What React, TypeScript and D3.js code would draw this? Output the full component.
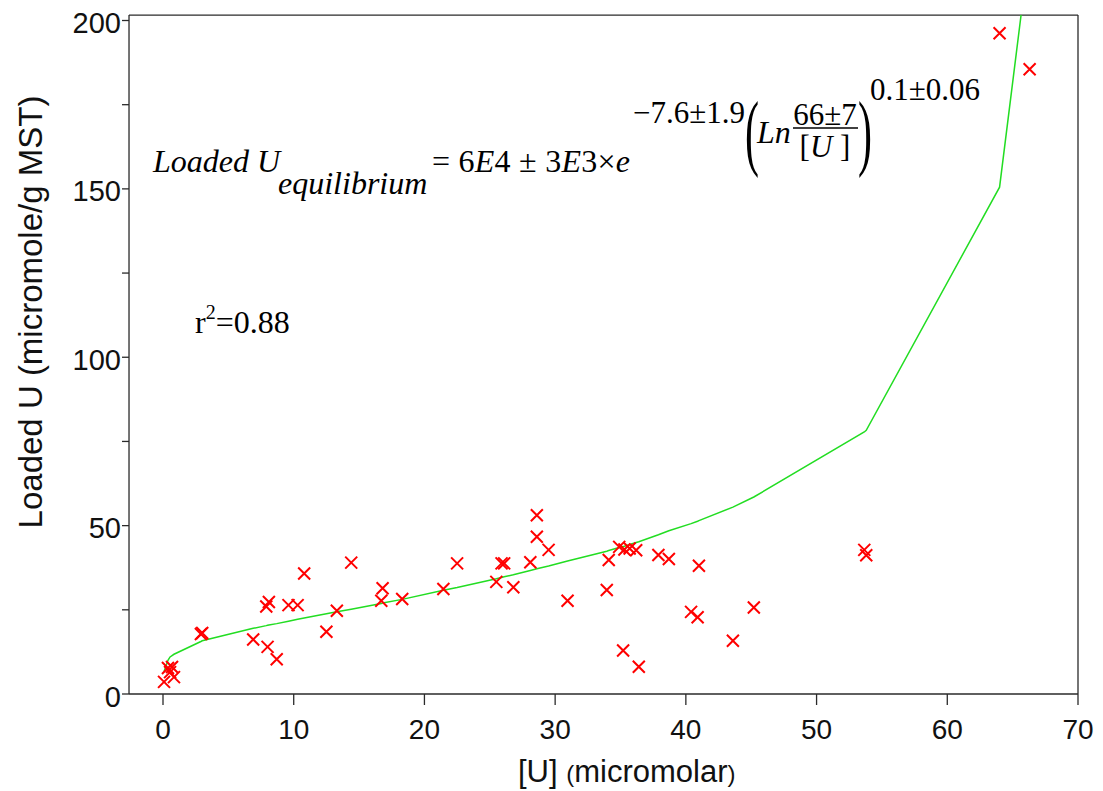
import React from 'react';
import * as d3 from 'd3';

// Measured data points: [U] (micromolar) vs Loaded U (micromole/g MST)
const pointsX = [0.08, 0.38, 0.69, 0.84, 0.54, 2.9, 3.0, 6.9, 8.0, 8.7, 7.9, 8.1, 9.6, 10.3, 10.8, 12.5, 13.3, 14.4,
  16.7, 16.8, 18.3, 21.45, 22.5, 25.5, 25.9, 26.1, 26.8, 28.1, 28.6, 28.6, 29.5, 30.95, 34.1, 33.95, 34.9, 35.3, 35.7,
  36.2, 35.2, 36.4, 37.9, 38.7, 41.0, 40.4, 40.9, 43.6, 45.2, 53.65, 53.8, 64.0, 66.3];
const pointsY = [3.6, 7.7, 8.0, 5.0, 6.5, 17.8, 18.1, 16.2, 14.0, 10.3, 26.0, 27.3, 26.4, 26.4, 35.8, 18.5, 24.7, 39.0,
  27.7, 31.4, 28.2, 31.2, 38.8, 33.3, 38.8, 38.8, 31.7, 39.1, 53.1, 46.7, 42.8, 27.7, 39.8, 30.9, 43.7, 42.9, 43.2,
  42.7, 12.9, 8.1, 41.3, 40.1, 38.1, 24.4, 22.8, 15.8, 25.7, 42.8, 41.2, 196.2, 185.5];

// Fitted curve vertices
const curveX = [0.08, 0.38, 0.54, 0.69, 0.84, 2.9, 3.0, 6.9, 7.9, 8.0, 8.1, 8.7, 9.6, 10.3, 10.8, 12.5, 13.3, 14.4,
  16.7, 16.8, 18.3, 21.45, 22.5, 25.5, 25.9, 26.1, 26.8, 28.1, 28.6, 29.5, 30.95, 33.95, 34.1, 34.9, 35.2, 35.3, 35.7,
  36.2, 36.4, 37.9, 38.7, 40.4, 40.9, 41.0, 43.6, 45.2, 53.65, 53.8, 64.0, 66.3];
const curveY = [6.7, 10.0, 11.0, 11.4, 11.8, 15.6, 15.8, 19.5, 20.3, 20.4, 20.5, 20.9, 21.6, 22.2, 22.6, 23.8, 24.4, 25.2,
  26.9, 27.0, 28.1, 30.8, 31.6, 34.2, 34.6, 34.8, 35.4, 36.7, 37.2, 38.0, 39.5, 42.4, 42.6, 43.5, 43.8, 43.9, 44.4,
  45.0, 45.2, 47.3, 48.5, 50.6, 51.3, 51.5, 55.5, 58.5, 77.8, 78.3, 150.5, 222];

const xTicks = [0, 10, 20, 30, 40, 50, 60, 70];
const yTicks = [0, 25, 50, 75, 100, 125, 150, 175, 200];
const yLabels = [0, 50, 100, 150, 200];

const SANS = '"Liberation Sans", Arial, sans-serif';
const SERIF = '"Liberation Serif", "Times New Roman", serif';

export default function App() {
  const x = d3.scaleLinear().domain([0, 70]).range([163, 1078]);
  const y = d3.scaleLinear().domain([0, 200]).range([694, 20.5]);
  const left = x(-2.6);
  const right = x(70);
  const top = y(201.6);
  const bottom = y(0);

  const line = d3.line<number>()
    .x((_, i) => x(curveX[i]))
    .y((_, i) => y(curveY[i]));
  const curvePath = line(curveX) || '';

  const s = 6;
  const axisColor = '#2a2a2a';

  return (
    <svg width={1103} height={791} style={{ position: 'absolute', left: 0, top: 0, background: '#fff' }}>
      <defs>
        <clipPath id="plotClip">
          <rect x={left} y={top} width={right - left} height={bottom - top} />
        </clipPath>
      </defs>

      {/* frame */}
      <line x1={left} x2={right} y1={top} y2={top} stroke={axisColor} strokeWidth={1.3} />
      <line x1={right} x2={right} y1={top} y2={bottom} stroke={axisColor} strokeWidth={1.3} />
      <line x1={left} x2={right} y1={bottom} y2={bottom} stroke={axisColor} strokeWidth={1.3} />
      <line x1={left} x2={left} y1={top} y2={bottom} stroke={axisColor} strokeWidth={1.3} />

      {/* x ticks */}
      {xTicks.map(t => (
        <g key={'xt' + t}>
          <line x1={x(t)} x2={x(t)} y1={bottom} y2={bottom + 11} stroke={axisColor} strokeWidth={1.3} />
          <text x={x(t)} y={739} textAnchor="middle" fontFamily={SANS} fontSize={28} fill="#111">{t}</text>
        </g>
      ))}
      {/* y ticks */}
      {yTicks.map(t => (
        <line key={'yt' + t} x1={left - 7} x2={left} y1={y(t)} y2={y(t)} stroke={axisColor} strokeWidth={1.3} />
      ))}
      {yLabels.map(t => (
        <text key={'yl' + t} x={121} y={y(t) + 12.5} textAnchor="end" fontFamily={SANS} fontSize={29} fill="#111">{t}</text>
      ))}

      {/* axis titles */}
      <text transform="translate(42,312) rotate(-90)" textAnchor="middle" fontFamily={SANS} fontSize={33} fill="#111">
        Loaded U (micromole/g MST)
      </text>
      <text x={518} y={782} fontFamily={SANS} fontSize={31} fill="#111">
        [U] <tspan fontSize={24}>(</tspan>micromolar<tspan fontSize={24}>)</tspan>
      </text>

      {/* fitted curve */}
      <path d={curvePath} fill="none" stroke="#22dd22" strokeWidth={1.5} clipPath="url(#plotClip)" />

      {/* data points */}
      {pointsX.map((px, i) => {
        const cx = x(px);
        const cy = y(pointsY[i]);
        return (
          <path key={'p' + i} d={`M${cx - s},${cy - s}L${cx + s},${cy + s}M${cx - s},${cy + s}L${cx + s},${cy - s}`}
            stroke="#ff0000" strokeWidth={2} fill="none" />
        );
      })}

      {/* equation */}
      <g fontFamily={SERIF} fill="#000" fontSize={32}>
        <text x={153} y={172} fontStyle="italic">Loaded U</text>
        <text x={278} y={194} fontStyle="italic">equilibrium</text>
        <text x={432} y={172} textLength={198} lengthAdjust="spacing">
          = 6<tspan fontStyle="italic">E</tspan>4 ± 3<tspan fontStyle="italic">E</tspan>3×<tspan fontStyle="italic">e</tspan>
        </text>
        <text x={633} y={123} fontSize={31}>−7.6±1.9</text>
        <text transform="translate(745,160) scale(0.5,1)" fontSize={84}>(</text>
        <text x={757} y={143} fontStyle="italic">Ln</text>
        <text x={825} y={125} textAnchor="middle" fontSize={31}>66±7</text>
        <line x1={793} x2={858} y1={128} y2={128} stroke="#000" strokeWidth={1.3} />
        <text x={825} y={157} textAnchor="middle" fontSize={31}>[<tspan fontStyle="italic">U</tspan> ]</text>
        <text transform="translate(858,160) scale(0.5,1)" fontSize={84}>)</text>
        <text x={870} y={100} fontSize={31}>0.1±0.06</text>
        <text x={195} y={333}>r<tspan fontSize={20} dy={-14}>2</tspan><tspan dy={14}>=0.88</tspan></text>
      </g>
    </svg>
  );
}
